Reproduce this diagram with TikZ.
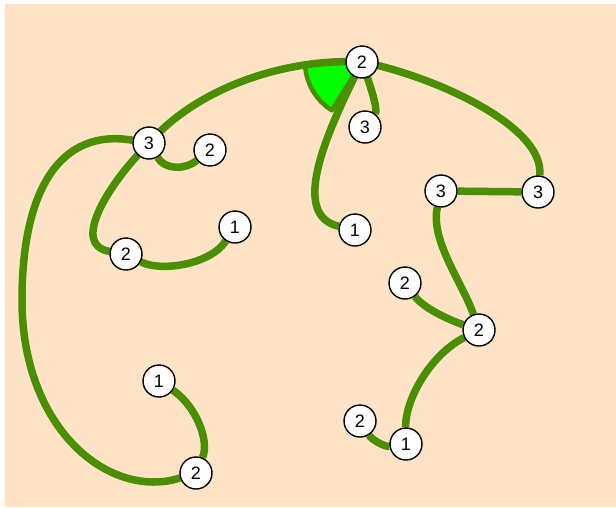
\documentclass[tikz,border=0pt]{standalone}
\usepackage{fontspec}
\setmainfont{Liberation Sans}
\pgfdeclarelayer{bgl}
\pgfdeclarelayer{edgel}
\pgfsetlayers{bgl,edgel,main}
\definecolor{peach}{RGB}{255,227,198}
\definecolor{vinegreen}{RGB}{74,143,0}
\definecolor{limegreen}{RGB}{0,255,0}
\begin{document}
\begin{tikzpicture}[x=1pt,y=-1pt,
  vx/.style={circle,draw=black,line width=1.4pt,fill=white,minimum size=32pt,inner sep=0pt,font=\fontsize{18}{18}\selectfont},
  vineline/.style={draw=vinegreen,line width=7.5pt},
  wedgefill/.style={fill=limegreen,draw=vinegreen,line width=4.5pt,line join=round}]
\useasboundingbox (0,0) rectangle (616,507);
\begin{pgfonlayer}{bgl}
\fill[peach] (5,4) rectangle (616,507);
\end{pgfonlayer}
% nodes
\node[vx] (A) at (362,62) {2};
\node[vx] (B) at (365,127) {3};
\node[vx] (C) at (149,143) {3};
\node[vx] (D) at (210,150) {2};
\node[vx] (E) at (235,227) {1};
\node[vx] (F) at (126,254) {2};
\node[vx] (G) at (355,230) {1};
\node[vx] (H) at (441,191) {3};
\node[vx] (I) at (538,192) {3};
\node[vx] (J) at (405,283) {2};
\node[vx] (K) at (479,330) {2};
\node[vx] (L) at (159,381) {1};
\node[vx] (M) at (196,473) {2};
\node[vx] (N) at (360,421) {2};
\node[vx] (O) at (406,444) {1};
\begin{pgfonlayer}{edgel}
\path[wedgefill] (A.center) -- ++(182:57pt) arc[start angle=182,end angle=238,radius=57pt] -- cycle;
\draw[vineline] (A.center) .. controls (290,58) and (200,85) .. (C.center);
\draw[vineline] (A.center) .. controls (325,135) and (290,215) .. (G);
\draw[vineline] (A.center) .. controls (372,90) and (378,110) .. (B);
\draw[vineline] (A.center) .. controls (430,75) and (545,125) .. (I);
\draw[vineline] (C) .. controls (110,185) and (70,245) .. (F);
\draw[vineline] (C) .. controls (60,128) and (22,190) .. (22,300) .. controls (22,430) and (110,500) .. (M);
\draw[vineline] (C) .. controls (165,170) and (185,170) .. (D);
\draw[vineline] (F) .. controls (160,272) and (210,265) .. (E);
\draw[vineline] (I) -- (H);
\draw[vineline] (H) .. controls (430,240) and (462,282) .. (K);
\draw[vineline] (J) .. controls (425,310) and (455,322) .. (K);
\draw[vineline] (K) .. controls (430,355) and (405,400) .. (O);
\draw[vineline] (O) .. controls (385,447) and (372,440) .. (N);
\draw[vineline] (L) .. controls (195,405) and (210,440) .. (M);
\end{pgfonlayer}
\end{tikzpicture}
\end{document}
